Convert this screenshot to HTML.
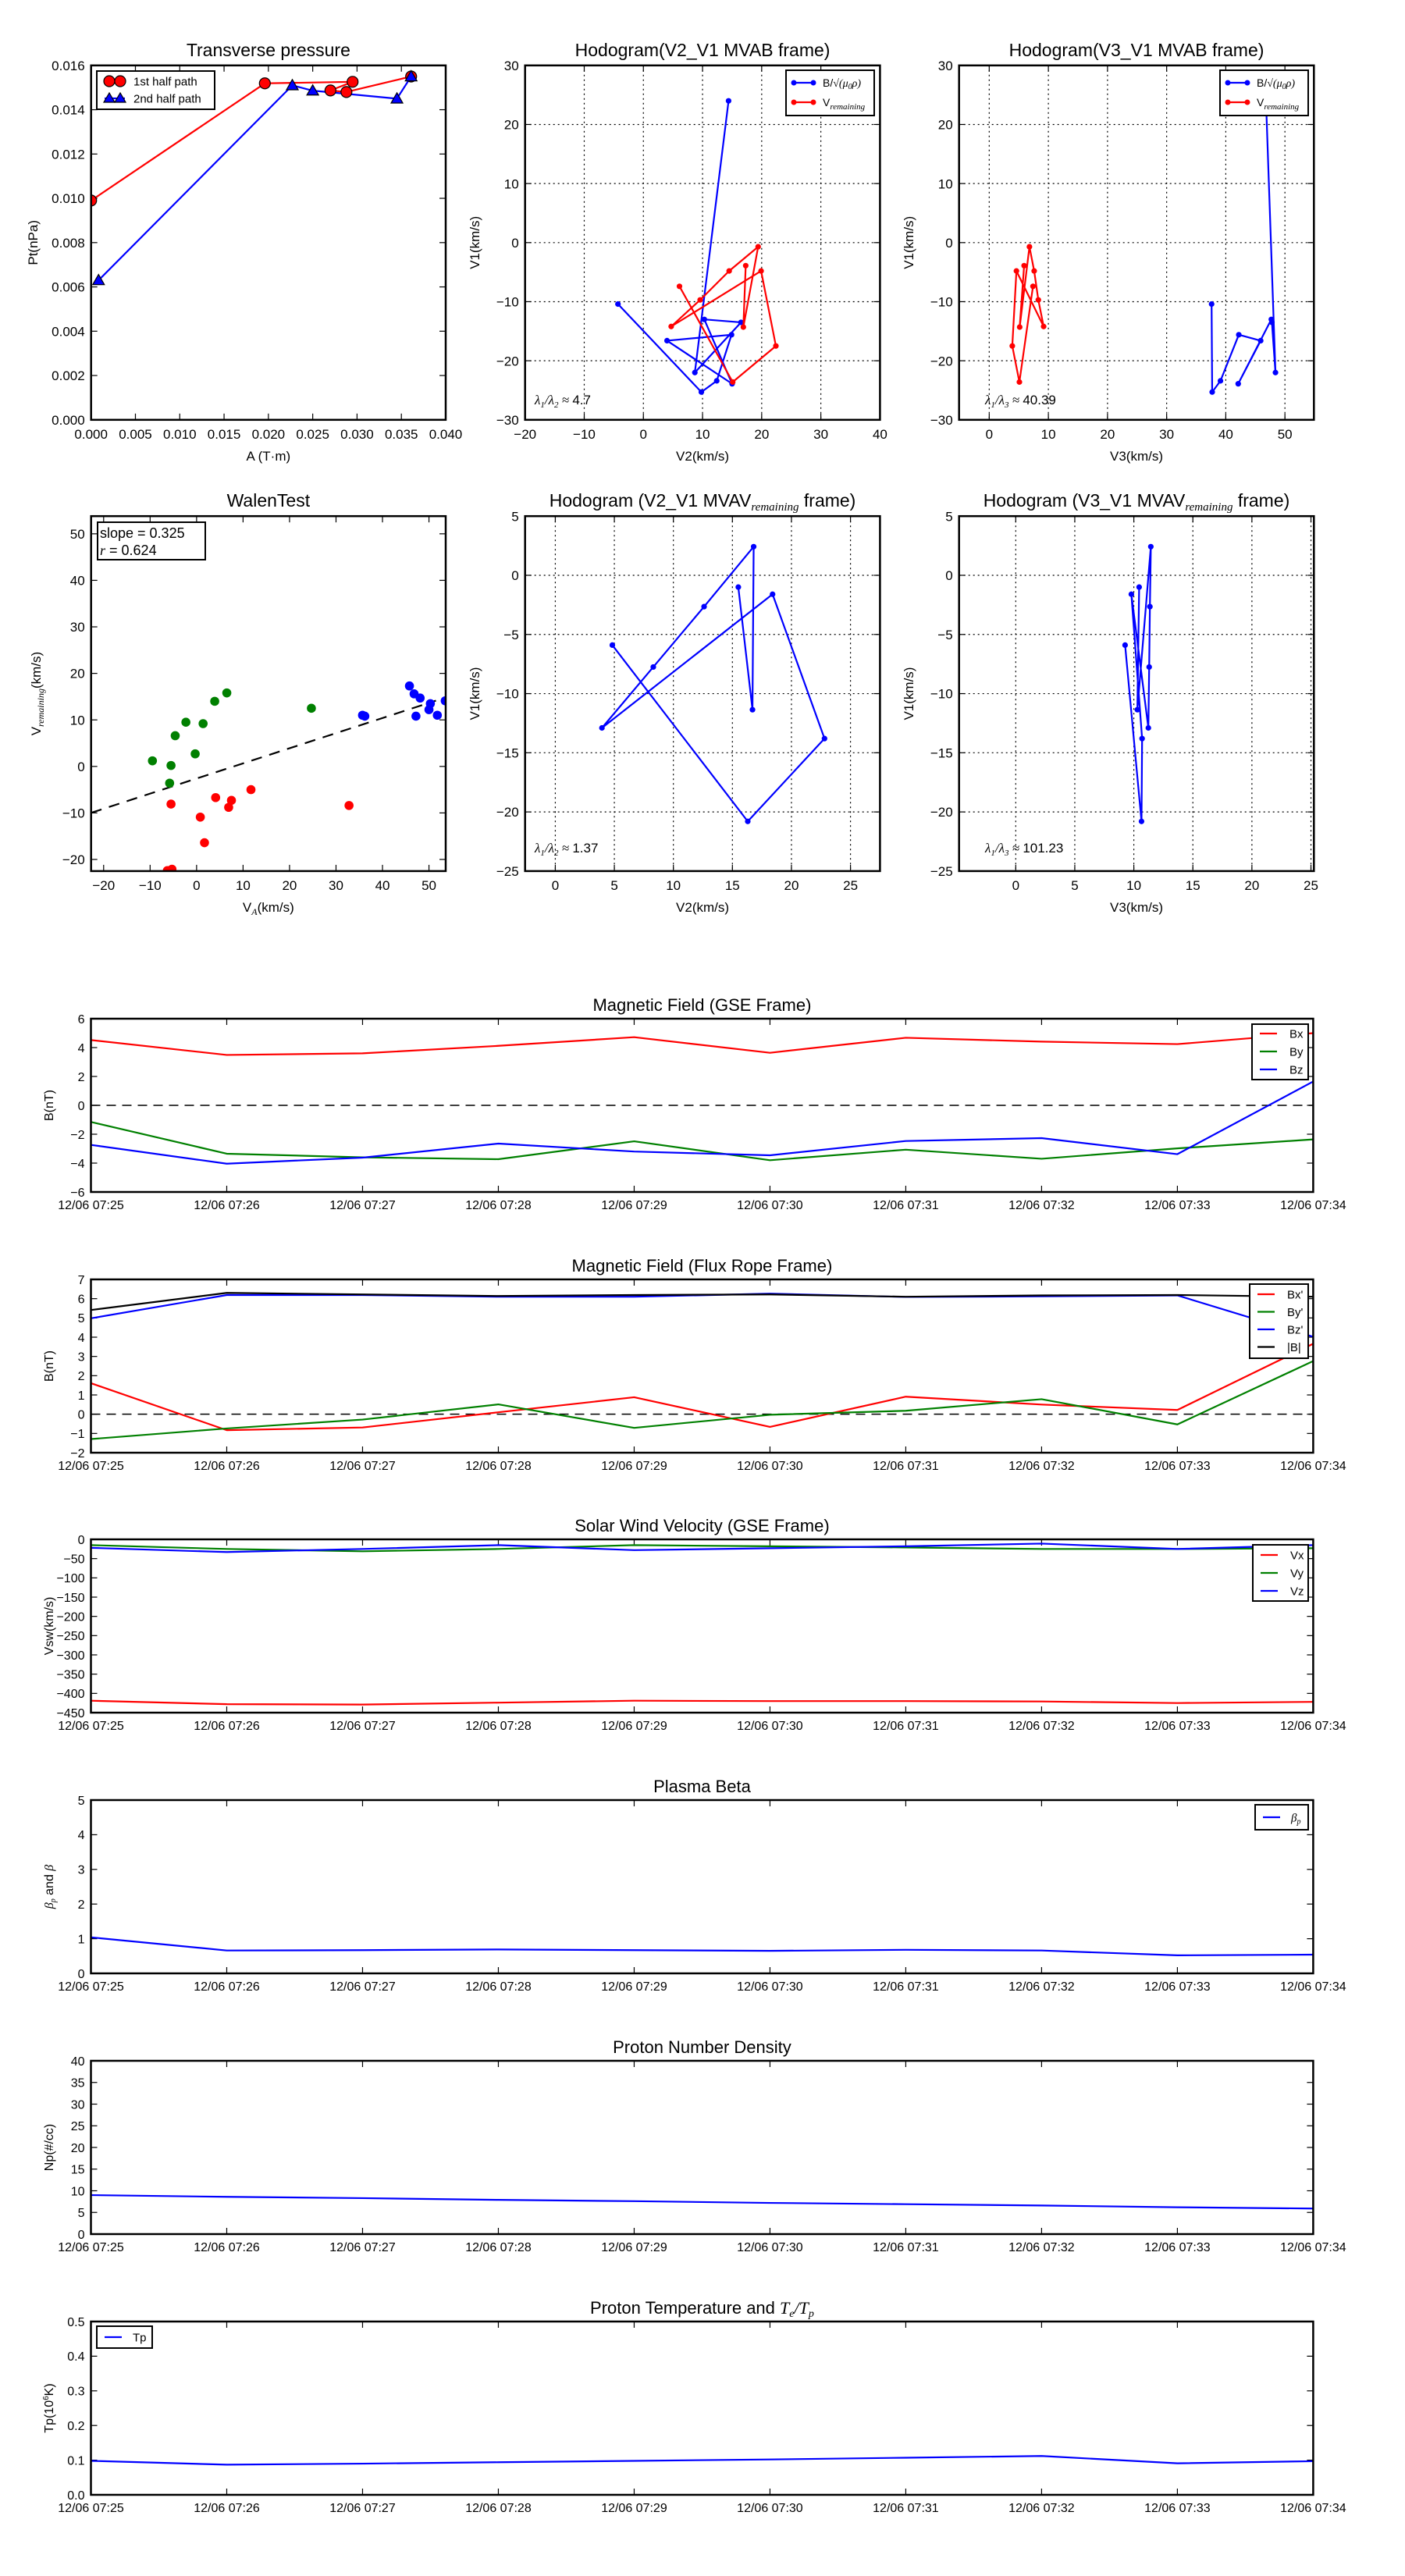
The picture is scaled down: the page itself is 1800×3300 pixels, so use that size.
<!DOCTYPE html>
<html><head><meta charset="utf-8"><title>MHD analysis plots</title>
<style>
html,body{margin:0;padding:0;background:#fff;}
svg{display:block;font-family:"Liberation Sans",sans-serif;}
</style></head>
<body>
<svg id="fig" width="1800" height="3300" viewBox="0 0 1800 3300" xmlns="http://www.w3.org/2000/svg"></svg>
<script>
// ---------- Transverse pressure ----------
const tpA1 = [0.0000, 0.0196, 0.0295, 0.0270, 0.0288, 0.0361];
const tpP1 = [0.00990, 0.01519, 0.01526, 0.01487, 0.01480, 0.01550];
const tpA2 = [0.00084, 0.0227, 0.0250, 0.0345, 0.0361];
const tpP2 = [0.0063, 0.0151, 0.01486, 0.0145, 0.0155];
// ---------- MVAB hodograms ----------
const mvabB1 = [-10.4, -25.3, -23.4, -15.6, -16.6, -23.9, -13.0, -13.5, -22.0, 24.0];
const mvabB2 = [-4.3, 9.8, 12.4, 14.9, 4.0, 15.0, 10.3, 16.5, 8.7, 14.4];
const mvabB3 = [37.6, 37.7, 39.1, 42.2, 45.9, 42.1, 47.7, 47.8, 48.4, 46.8];
const mvabV1 = [-7.4, -23.6, -17.5, -4.8, -14.2, -9.7, -4.8, -0.7, -14.3, -3.9];
const mvabV2 = [6.1, 15.1, 22.4, 19.9, 4.7, 9.6, 14.5, 19.4, 16.9, 17.3];
const mvabV3 = [7.4, 5.1, 3.9, 4.6, 9.2, 8.3, 7.6, 6.8, 5.15, 5.9];
// ---------- Walen test ----------
const walenGreenX = [-9.5, -5.5, -5.8, -4.6, -2.3, -0.3, 1.4, 3.9, 6.5, 24.7];
const walenGreenY = [1.2, 0.2, -3.6, 6.6, 9.5, 2.7, 9.2, 14.0, 15.8, 12.5];
const walenRedX = [-5.5, 0.8, 1.7, -6.3, -5.3, 4.1, 6.9, 7.5, 11.7, 32.8];
const walenRedY = [-8.1, -10.9, -16.4, -22.4, -22.1, -6.7, -8.8, -7.3, -5.0, -8.4];
const walenBlueX = [45.8, 46.8, 48.1, 47.2, 50.0, 50.3, 51.8, 35.7, 36.2, 53.5];
const walenBlueY = [17.3, 15.6, 14.7, 10.8, 12.2, 13.5, 11.0, 11.0, 10.8, 14.1];
const walenSlope = 0.325;
const walenIntercept = -2.6;
// ---------- MVAV hodograms ----------
const mvavV1 = [-5.9, -20.8, -13.8, -1.6, -12.9, -7.75, -2.65, 2.42, -11.36, -1.0];
const mvavV2 = [4.83, 16.3, 22.8, 18.4, 3.95, 8.3, 12.6, 16.8, 16.7, 15.5];
const mvavV3 = [9.26, 10.65, 10.7, 9.79, 11.23, 11.3, 11.36, 11.44, 10.3, 10.45];
// ---------- Time series ----------
const timeLabels = ["12/06 07:25","12/06 07:26","12/06 07:27","12/06 07:28","12/06 07:29","12/06 07:30","12/06 07:31","12/06 07:32","12/06 07:33","12/06 07:34"];
const bxGSE = [4.52, 3.49, 3.6, 4.12, 4.72, 3.64, 4.68, 4.41, 4.24, 5.0];
const byGSE = [-1.15, -3.35, -3.6, -3.73, -2.49, -3.8, -3.07, -3.7, -2.98, -2.36];
const bzGSE = [-2.74, -4.04, -3.62, -2.65, -3.2, -3.46, -2.47, -2.27, -3.38, 1.65];
const bxFR = [1.61, -0.83, -0.69, 0.1, 0.88, -0.66, 0.91, 0.5, 0.22, 3.66];
const byFR = [-1.29, -0.74, -0.28, 0.51, -0.71, -0.03, 0.18, 0.78, -0.53, 2.76];
const bzFR = [4.98, 6.19, 6.19, 6.1, 6.1, 6.26, 6.09, 6.12, 6.17, 4.02];
const btFR = [5.41, 6.3, 6.22, 6.14, 6.19, 6.22, 6.1, 6.17, 6.19, 6.1];
const vxGSE = [-419, -428, -429, -424, -419, -420, -420, -421, -425, -422];
const vyGSE = [-15, -25, -31, -25, -15, -18, -21, -25, -25, -23];
const vzGSE = [-22, -33, -25, -15, -28, -23, -18, -11, -25, -15];
const betaP = [1.04, 0.66, 0.67, 0.69, 0.67, 0.65, 0.68, 0.66, 0.52, 0.54];
const densNp = [9.0, 8.6, 8.3, 7.9, 7.6, 7.2, 6.9, 6.6, 6.2, 5.9];
const tempTp = [0.098, 0.087, 0.09, 0.094, 0.098, 0.102, 0.107, 0.112, 0.091, 0.097];

const NS = "http://www.w3.org/2000/svg";
const svg = document.getElementById('fig');
function mk(tag, attrs, parent) {
  const e = document.createElementNS(NS, tag);
  for (const k in attrs) e.setAttribute(k, attrs[k]);
  (parent || svg).appendChild(e);
  return e;
}
function fmtNum(v, dec) {
  let s = v.toFixed(dec);
  if (v < 0) s = "\u2212" + s.slice(1);
  return s;
}
function makeAxes(o) {
  const g = mk('g', {});
  
  
  const sx = v => o.x0 + (v - o.xmin) / (o.xmax - o.xmin) * (o.x1 - o.x0);
  const sy = v => o.y1 - (v - o.ymin) / (o.ymax - o.ymin) * (o.y1 - o.y0);
  const fs = o.fs || 17;
  // grid & ticks
  o.xticks.forEach((t, i) => {
    const x = sx(t);
    if (o.grid) {
      const gl = mk('line', {x1:x, x2:x, y1:o.y0, y2:o.y1, stroke:'#000', 'stroke-width':1.2, 'stroke-dasharray':'2,4'}, g);
      
      
    }
    mk('line', {x1:x, x2:x, y1:o.y1, y2:o.y1-8, stroke:'#000', 'stroke-width':1.2}, g);
    mk('line', {x1:x, x2:x, y1:o.y0, y2:o.y0+8, stroke:'#000', 'stroke-width':1.2}, g);
    const lab = o.xlabels ? o.xlabels[i] : fmtNum(t, o.xdec || 0);
    const tx = mk('text', {x:x, y:o.y1 + (o.xtickOff || 24), 'font-size':fs, 'text-anchor':'middle'}, g);
    tx.textContent = lab;
    
    
  });
  o.yticks.forEach(t => {
    const y = sy(t);
    if (o.grid) {
      const gl = mk('line', {x1:o.x0, x2:o.x1, y1:y, y2:y, stroke:'#000', 'stroke-width':1.2, 'stroke-dasharray':'2,4'}, g);
      
      
    }
    mk('line', {x1:o.x0, x2:o.x0+8, y1:y, y2:y, stroke:'#000', 'stroke-width':1.2}, g);
    mk('line', {x1:o.x1, x2:o.x1-8, y1:y, y2:y, stroke:'#000', 'stroke-width':1.2}, g);
    const ty = mk('text', {x:o.x0 - 8, y:y + fs*0.36, 'font-size':fs, 'text-anchor':'end'}, g);
    ty.textContent = fmtNum(t, o.ydec || 0);
    
    
  });
  // title
  const tt = mk('text', {x:(o.x0+o.x1)/2, y:o.y0 - (o.titleOff || 12), 'font-size':o.tfs || 23, 'text-anchor':'middle'}, g);
  tt.innerHTML = o.title;
  
  
  // x label
  if (o.xlabel) {
    const xl = mk('text', {x:(o.x0+o.x1)/2, y:o.xlabelY, 'font-size':o.lfs || 17, 'text-anchor':'middle'}, g);
    xl.innerHTML = o.xlabel;
    
    
  }
  if (o.ylabel) {
    const cy = (o.y0+o.y1)/2;
    const yl = mk('text', {x:o.ylabelX, y:cy, 'font-size':o.lfs || 17, 'text-anchor':'middle', transform:`rotate(-90 ${o.ylabelX} ${cy})`}, g);
    yl.innerHTML = o.ylabel;
    
    
  }
  const clipId = 'clip' + o.name;
  const cp = mk('clipPath', {id:clipId}, g);
  mk('rect', {x:o.x0, y:o.y0, width:o.x1-o.x0, height:o.y1-o.y0}, cp);
  const plot = mk('g', {'clip-path':`url(#${clipId})`}, g);
  
  
  return {g, plot, sx, sy, o, frame(){
    const fr = mk('rect', {x:o.x0, y:o.y0, width:o.x1-o.x0, height:o.y1-o.y0, fill:'none', stroke:'#000', 'stroke-width':2.5}, g);
    
    
  }};
}
function polyline(ax, xs, ys, color, name, w) {
  const pts = xs.map((x, i) => ax.sx(x).toFixed(2) + ',' + ax.sy(ys[i]).toFixed(2)).join(' ');
  const p = mk('polyline', {points:pts, fill:'none', stroke:color, 'stroke-width':w || 2.2, 'stroke-linejoin':'round'}, ax.plot);
  
  
  return p;
}
function dots(ax, xs, ys, color, name, r, stroke) {
  xs.forEach((x, i) => {
    const c = mk('circle', {cx:ax.sx(x), cy:ax.sy(ys[i]), r:r, fill:color, stroke:stroke || 'none', 'stroke-width':1.2}, ax.plot);
    
    
  });
}
function tris(ax, xs, ys, color, name, s) {
  xs.forEach((x, i) => {
    const cx = ax.sx(x), cy = ax.sy(ys[i]);
    const t = mk('polygon', {points:`${cx},${cy-s} ${cx-s},${cy+s*0.75} ${cx+s},${cy+s*0.75}`, fill:color, stroke:'#000', 'stroke-width':1.2}, ax.plot);
    
    
  });
}
function legendBox(x, y, w, h, items, name, fs, lineLen, textX, rowH, firstY, marker) {
  const g = mk('g', {});
  
  
  const r = mk('rect', {x, y, width:w, height:h, fill:'#fff', stroke:'#000', 'stroke-width':2}, g);
  items.forEach((it, i) => {
    const ly = y + firstY + i * rowH;
    const ln = mk('line', {x1:x+10, x2:x+10+lineLen, y1:ly, y2:ly, stroke:it.c, 'stroke-width':2.2}, g);
    
    
    if (it.m === 'dot') { mk('circle', {cx:x+10, cy:ly, r:3.5, fill:it.c}, g); mk('circle', {cx:x+10+lineLen, cy:ly, r:3.5, fill:it.c}, g); }
    if (it.m === 'bigdot') { mk('circle', {cx:x+16, cy:ly, r:7, fill:it.c, stroke:'#000', 'stroke-width':1.2}, g); mk('circle', {cx:x+10+lineLen-6, cy:ly, r:7, fill:it.c, stroke:'#000', 'stroke-width':1.2}, g); }
    if (it.m === 'tri') { [x+16, x+10+lineLen-6].forEach(cx => mk('polygon', {points:`${cx},${ly-7} ${cx-7},${ly+5} ${cx+7},${ly+5}`, fill:it.c, stroke:'#000', 'stroke-width':1.2}, g)); }
    const t = mk('text', {x:x+textX, y:ly + fs*0.36, 'font-size':fs}, g);
    t.innerHTML = it.t;
    
    
  });
}
function range(a, b, s) { const r = []; for (let v = a; v <= b + 1e-9; v += s) r.push(+v.toFixed(6)); return r; }

const BSQ = 'B/<tspan font-family="Liberation Serif" font-style="italic">\u221A(\u03BC<tspan font-size="10" dy="3">0</tspan><tspan dy="-3">\u03C1)</tspan></tspan>';
const VREM = 'V<tspan font-family="Liberation Serif" font-style="italic" font-size="11" dy="4">remaining</tspan>';

// Row 1 x positions
const colX = [[116.7, 571], [672.7, 1127.4], [1228.7, 1683.3]];

// ---- Transverse pressure ----
{
  const ax = makeAxes({name:'transverse-pressure-chart', x0:colX[0][0], x1:colX[0][1], y0:83.8, y1:537.8,
    xmin:0, xmax:0.04, ymin:0, ymax:0.016, xticks:range(0, 0.04, 0.005), yticks:range(0, 0.016, 0.002),
    xdec:3, ydec:3, title:'Transverse pressure', xlabel:'A (T\u00B7m)', xlabelY:590, ylabel:'Pt(nPa)', ylabelX:48});
  polyline(ax, tpA1, tpP1, '#f00', 'series-1st-half-line');
  polyline(ax, tpA2, tpP2, '#00f', 'series-2nd-half-line');
  dots(ax, tpA1, tpP1, '#f00', 'point-1st-half', 7, '#000');
  tris(ax, tpA2, tpP2, '#00f', 'point-2nd-half', 7.5);
  ax.frame();
  legendBox(124, 91, 151, 49, [{c:'#f00', t:'1st half path', m:'bigdot'}, {c:'#00f', t:'2nd half path', m:'tri'}], 'legend', 15, 26, 47, 22, 13);
}
// ---- Hodogram V2_V1 MVAB ----
{
  const ax = makeAxes({name:'hodogram-v2-v1-mvab', x0:colX[1][0], x1:colX[1][1], y0:83.8, y1:537.8,
    xmin:-20, xmax:40, ymin:-30, ymax:30, xticks:range(-20, 40, 10), yticks:range(-30, 30, 10), grid:true,
    title:'Hodogram(V2_V1 MVAB frame)', xlabel:'V2(km/s)', xlabelY:590, ylabel:'V1(km/s)', ylabelX:614});
  polyline(ax, mvabB2, mvabB1, '#00f', 'series-b-alfven');
  dots(ax, mvabB2, mvabB1, '#00f', 'point-b-alfven', 3.6);
  polyline(ax, mvabV2, mvabV1, '#f00', 'series-v-remaining');
  dots(ax, mvabV2, mvabV1, '#f00', 'point-v-remaining', 3.6);
  ax.frame();
  legendBox(1007, 90, 113, 58, [{c:'#00f', t:BSQ, m:'dot'}, {c:'#f00', t:VREM, m:'dot'}], 'legend', 14, 25, 47, 25, 16);
  const t = mk('text', {x:685, y:518, 'font-size':17});
  t.innerHTML = '<tspan font-family="Liberation Serif" font-style="italic">\u03BB<tspan font-size="11" dy="4">1</tspan><tspan dy="-4">/\u03BB</tspan><tspan font-size="11" dy="4">2</tspan><tspan dy="-4"> \u2248 </tspan></tspan>4.7';
  
  
}
// ---- Hodogram V3_V1 MVAB ----
{
  const ax = makeAxes({name:'hodogram-v3-v1-mvab', x0:colX[2][0], x1:colX[2][1], y0:83.8, y1:537.8,
    xmin:-5.1, xmax:54.9, ymin:-30, ymax:30, xticks:range(0, 50, 10), yticks:range(-30, 30, 10), grid:true,
    title:'Hodogram(V3_V1 MVAB frame)', xlabel:'V3(km/s)', xlabelY:590, ylabel:'V1(km/s)', ylabelX:1170});
  polyline(ax, mvabB3, mvabB1, '#00f', 'series-b-alfven');
  dots(ax, mvabB3, mvabB1, '#00f', 'point-b-alfven', 3.6);
  polyline(ax, mvabV3, mvabV1, '#f00', 'series-v-remaining');
  dots(ax, mvabV3, mvabV1, '#f00', 'point-v-remaining', 3.6);
  ax.frame();
  legendBox(1563, 90, 113, 58, [{c:'#00f', t:BSQ, m:'dot'}, {c:'#f00', t:VREM, m:'dot'}], 'legend', 14, 25, 47, 25, 16);
  const t = mk('text', {x:1262, y:518, 'font-size':17});
  t.innerHTML = '<tspan font-family="Liberation Serif" font-style="italic">\u03BB<tspan font-size="11" dy="4">1</tspan><tspan dy="-4">/\u03BB</tspan><tspan font-size="11" dy="4">3</tspan><tspan dy="-4"> \u2248 </tspan></tspan>40.39';
  
  
}
// ---- Walen test ----
{
  const ax = makeAxes({name:'walen-test-chart', x0:colX[0][0], x1:colX[0][1], y0:661.2, y1:1115.9,
    xmin:-22.7, xmax:53.6, ymin:-22.5, ymax:53.8, xticks:range(-20, 50, 10), yticks:range(-20, 50, 10),
    title:'WalenTest', xlabel:'V<tspan font-family="Liberation Serif" font-style="italic" font-size="12" dy="4">A</tspan><tspan dy="-4">(km/s)</tspan>', xlabelY:1168,
    ylabel:'V<tspan font-family="Liberation Serif" font-style="italic" font-size="12" dy="4">remaining</tspan><tspan dy="-4">(km/s)</tspan>', ylabelX:52});
  const fx = [-22.7, 51.5];
  const fy = fx.map(v => walenSlope * v + walenIntercept);
  const fl = polyline(ax, fx, fy, '#000', 'fit-line', 2.2);
  fl.setAttribute('stroke-dasharray', '14,10');
  dots(ax, walenGreenX, walenGreenY, '#008000', 'point-green', 5.8);
  dots(ax, walenRedX, walenRedY, '#f00', 'point-red', 5.8);
  dots(ax, walenBlueX, walenBlueY, '#00f', 'point-blue', 5.8);
  ax.frame();
  const g = mk('g', {});
  
  
  mk('rect', {x:125, y:669, width:138, height:48, fill:'#fff', stroke:'#000', 'stroke-width':2}, g);
  const t1 = mk('text', {x:128, y:689, 'font-size':18}, g);
  t1.textContent = 'slope = ' + walenSlope.toFixed(3);
  const t2 = mk('text', {x:128, y:711, 'font-size':18}, g);
  t2.innerHTML = '<tspan font-family="Liberation Serif" font-style="italic">r</tspan> = 0.624';
}
// ---- MVAV V2_V1 ----
const TT = (n) => `Hodogram (V${n}_V1 MVAV<tspan font-family="Liberation Serif" font-style="italic" font-size="15" dy="5">remaining</tspan><tspan dy="-5"> frame)</tspan>`;
{
  const ax = makeAxes({name:'hodogram-v2-v1-mvav', x0:colX[1][0], x1:colX[1][1], y0:661.2, y1:1115.9,
    xmin:-2.56, xmax:27.5, ymin:-25, ymax:5, xticks:range(0, 25, 5), yticks:range(-25, 5, 5), grid:true,
    title:TT(2), xlabel:'V2(km/s)', xlabelY:1168, ylabel:'V1(km/s)', ylabelX:614});
  polyline(ax, mvavV2, mvavV1, '#00f', 'series-v-remaining');
  dots(ax, mvavV2, mvavV1, '#00f', 'point-v-remaining', 3.6);
  ax.frame();
  const t = mk('text', {x:685, y:1092, 'font-size':17});
  t.innerHTML = '<tspan font-family="Liberation Serif" font-style="italic">\u03BB<tspan font-size="11" dy="4">1</tspan><tspan dy="-4">/\u03BB</tspan><tspan font-size="11" dy="4">2</tspan><tspan dy="-4"> \u2248 </tspan></tspan>1.37';
  
  
}
// ---- MVAV V3_V1 ----
{
  const ax = makeAxes({name:'hodogram-v3-v1-mvav', x0:colX[2][0], x1:colX[2][1], y0:661.2, y1:1115.9,
    xmin:-4.8, xmax:25.25, ymin:-25, ymax:5, xticks:range(0, 25, 5), yticks:range(-25, 5, 5), grid:true,
    title:TT(3), xlabel:'V3(km/s)', xlabelY:1168, ylabel:'V1(km/s)', ylabelX:1170});
  polyline(ax, mvavV3, mvavV1, '#00f', 'series-v-remaining');
  dots(ax, mvavV3, mvavV1, '#00f', 'point-v-remaining', 3.6);
  ax.frame();
  const t = mk('text', {x:1262, y:1092, 'font-size':17});
  t.innerHTML = '<tspan font-family="Liberation Serif" font-style="italic">\u03BB<tspan font-size="11" dy="4">1</tspan><tspan dy="-4">/\u03BB</tspan><tspan font-size="11" dy="4">3</tspan><tspan dy="-4"> \u2248 </tspan></tspan>101.23';
  
  
}
// ---- Time series panels ----
const tIdx = timeLabels.map((_, i) => i);
function tsPanel(name, top, ymin, ymax, yticks, ydec, title, ylabel, series, zero, legend) {
  const ax = makeAxes({name, x0:116.5, x1:1682.4, y0:top, y1:top+222,
    xmin:0, xmax:9, ymin, ymax, xticks:tIdx, xlabels:timeLabels, yticks, ydec,
    title, tfs:22, titleOff:10, fs:16, xtickOff:22, ylabel, ylabelX:68, lfs:16});
  if (zero) {
    const z = polyline(ax, [0, 9], [0, 0], '#000', 'zero-line', 1.5);
    z.setAttribute('stroke-dasharray', '12,8');
  }
  series.forEach(s => polyline(ax, tIdx, s.d, s.c, s.n));
  ax.frame();
  if (legend) legend();
}
tsPanel('magnetic-field-gse-chart', 1305, -6, 6, range(-6, 6, 2), 0, 'Magnetic Field (GSE Frame)', 'B(nT)',
  [{d:bxGSE, c:'#f00', n:'series-bx'}, {d:byGSE, c:'#008000', n:'series-by'}, {d:bzGSE, c:'#00f', n:'series-bz'}], true,
  () => legendBox(1604, 1312, 72, 71, [{c:'#f00', t:'Bx'}, {c:'#008000', t:'By'}, {c:'#00f', t:'Bz'}], 'legend', 15, 22, 48, 23, 12));
tsPanel('magnetic-field-flux-rope-chart', 1639, -2, 7, range(-2, 7, 1), 0, 'Magnetic Field (Flux Rope Frame)', 'B(nT)',
  [{d:bxFR, c:'#f00', n:'series-bx-prime'}, {d:byFR, c:'#008000', n:'series-by-prime'}, {d:bzFR, c:'#00f', n:'series-bz-prime'}, {d:btFR, c:'#000', n:'series-b-total'}], true,
  () => legendBox(1601, 1645, 75, 95, [{c:'#f00', t:"Bx'"}, {c:'#008000', t:"By'"}, {c:'#00f', t:"Bz'"}, {c:'#000', t:'|B|'}], 'legend', 15, 22, 48, 22.5, 13));
tsPanel('solar-wind-velocity-chart', 1972, -450, 0, range(-450, 0, 50), 0, 'Solar Wind Velocity (GSE Frame)', 'Vsw(km/s)',
  [{d:vxGSE, c:'#f00', n:'series-vx'}, {d:vyGSE, c:'#008000', n:'series-vy'}, {d:vzGSE, c:'#00f', n:'series-vz'}], false,
  () => legendBox(1605, 1979, 71, 72, [{c:'#f00', t:'Vx'}, {c:'#008000', t:'Vy'}, {c:'#00f', t:'Vz'}], 'legend', 15, 22, 48, 23, 13));
tsPanel('plasma-beta-chart', 2306, 0, 5, range(0, 5, 1), 0, 'Plasma Beta',
  '<tspan font-family="Liberation Serif" font-style="italic">\u03B2<tspan font-size="10" dy="3">p</tspan></tspan><tspan dy="-3"> and </tspan><tspan font-family="Liberation Serif" font-style="italic">\u03B2</tspan>',
  [{d:betaP, c:'#00f', n:'series-beta-p'}], false,
  () => legendBox(1608, 2312, 68, 32, [{c:'#00f', t:'<tspan font-family="Liberation Serif" font-style="italic">\u03B2<tspan font-size="10" dy="3">p</tspan></tspan>'}], 'legend', 15, 22, 46, 23, 16));
tsPanel('proton-density-chart', 2640, 0, 40, range(0, 40, 5), 0, 'Proton Number Density', 'Np(#/cc)',
  [{d:densNp, c:'#00f', n:'series-np'}], false, null);
tsPanel('proton-temperature-chart', 2974, 0, 0.5, range(0, 0.5, 0.1), 1,
  'Proton Temperature and <tspan font-family="Liberation Serif" font-style="italic">T<tspan font-size="14" dy="4">e</tspan><tspan dy="-4">/T</tspan><tspan font-size="14" dy="4">p</tspan></tspan>',
  'Tp(10<tspan font-size="10" dy="-6">6</tspan><tspan dy="6">K)</tspan>',
  [{d:tempTp, c:'#00f', n:'series-tp'}], false,
  () => legendBox(124, 2980, 71, 28, [{c:'#00f', t:'Tp'}], 'legend', 15, 22, 46, 23, 14));
</script>
</body></html>
